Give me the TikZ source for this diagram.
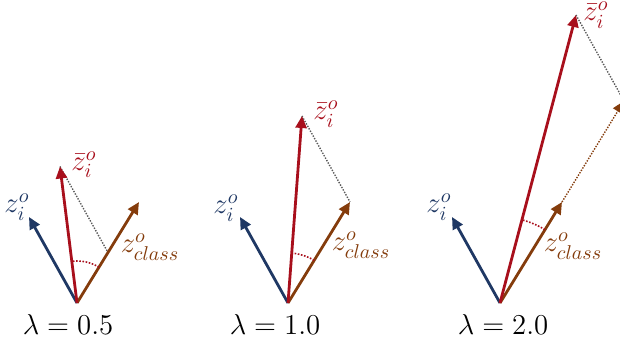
\documentclass[tikz,border=0pt]{standalone}
\usepackage{xcolor}
\usepackage{tikz}
\usetikzlibrary{arrows.meta, positioning, calc}
\definecolor{navy}{HTML}{1F3864}
\definecolor{dkred}{HTML}{A80F1C}
\definecolor{rust}{HTML}{843C0C}
\definecolor{dkgray}{HTML}{595959}
\tikzset{
    vecarr/.style={
        -{Triangle[length=6pt, width=5.5pt]}, line width=1.4pt,
    },
    projline/.style={
        dkgray, line width=0.7pt, dash pattern=on 0.7pt off 0.7pt,
    },
    extarr/.style={
        rust, line width=0.7pt, dash pattern=on 0.7pt off 0.7pt,
        -{Triangle[length=6pt, width=5.5pt]},
    },
    anglearc/.style={
        dkred, line width=0.8pt, dash pattern=on 0.8pt off 0.8pt,
    },
    vlabel/.style={
        inner sep=0pt, font=\fontsize{14}{16}\selectfont,
    },
    lambdalbl/.style={
        inner sep=0pt, font=\fontsize{14}{16}\selectfont, text=black,
    },
}
\begin{document}
\begin{tikzpicture}[x=0.5pt, y=0.5pt]

\useasboundingbox (0,0) rectangle (620,347);
\clip (0,0) rectangle (620,347);

% ═══ LAMBDA = 0.5 ═══
\coordinate (o1) at (77,44);
\coordinate (zi1) at ($(o1)+(-48,86)$);
\coordinate (zc1) at ($(o1)+(62,101)$);
\coordinate (zl1) at ($(o1)+0.5*(62,101)$);
\coordinate (zb1) at ($(zl1)+(-48,86)$);

\draw[projline] (zb1) -- (zl1);
\draw[vecarr, navy] (o1) -- (zi1);
\draw[vecarr, rust] (o1) -- (zc1);
\draw[vecarr, dkred] (o1) -- (zb1);
\draw[anglearc] ($(o1)+(58.5:42)$) arc[start angle=58.5, end angle=97, radius=42];

\node[vlabel, text=navy] (li1) at ($(zi1)+(-12,10)$) {$z_i^o$};
\node[vlabel, text=dkred] (lb1) at ($(zb1)+(24,2)$) {$\bar{z}_i^o$};
\node[vlabel, text=rust] (lc1) at ($(zc1)+(11,-45)$) {$z_{class}^o$};
\node[lambdalbl] (lam1) at (68,22) {$\lambda = 0.5$};

% ═══ LAMBDA = 1.0 ═══
\coordinate (o2) at (288,44);
\coordinate (zi2) at ($(o2)+(-48,86)$);
\coordinate (zc2) at ($(o2)+(62,101)$);
\coordinate (zb2) at ($(zc2)+(-48,86)$);

\draw[projline] (zb2) -- (zc2);
\draw[vecarr, navy] (o2) -- (zi2);
\draw[vecarr, rust] (o2) -- (zc2);
\draw[vecarr, dkred] (o2) -- (zb2);
\draw[anglearc] ($(o2)+(58.5:50)$) arc[start angle=58.5, end angle=85.7, radius=50];

\node[vlabel, text=navy] (li2) at ($(zi2)+(-14,9)$) {$z_i^o$};
\node[vlabel, text=dkred] (lb2) at ($(zb2)+(24,2)$) {$\bar{z}_i^o$};
\node[vlabel, text=rust] (lc2) at ($(zc2)+(11,-43)$) {$z_{class}^o$};
\node[lambdalbl] (lam2) at (275,22) {$\lambda = 1.0$};

% ═══ LAMBDA = 2.0 ═══
\coordinate (o3) at (500,44);
\coordinate (zi3) at ($(o3)+(-48,86)$);
\coordinate (zc3) at ($(o3)+(62,101)$);
\coordinate (zl3) at ($(o3)+2*(62,101)$);
\coordinate (zb3) at ($(zl3)+(-48,86)$);

% scaled class vector runs past the right edge
\draw[projline] (zb3) -- (zl3);
\draw[extarr] (zc3) -- (zl3);
\draw[vecarr, navy] (o3) -- (zi3);
\draw[vecarr, rust] (o3) -- (zc3);
\draw[vecarr, dkred] (o3) -- (zb3);
\draw[anglearc] ($(o3)+(58.5:86)$) arc[start angle=58.5, end angle=75.2, radius=86];

\node[vlabel, text=navy] (li3) at ($(zi3)+(-13,10)$) {$z_i^o$};
\node[vlabel, text=dkred] (lb3) at ($(zb3)+(20,0)$) {$\bar{z}_i^o$};
\node[vlabel, text=rust] (lc3) at ($(zc3)+(11,-44)$) {$z_{class}^o$};
\node[lambdalbl] (lam3) at (503,22) {$\lambda = 2.0$};

\end{tikzpicture}
\end{document}
